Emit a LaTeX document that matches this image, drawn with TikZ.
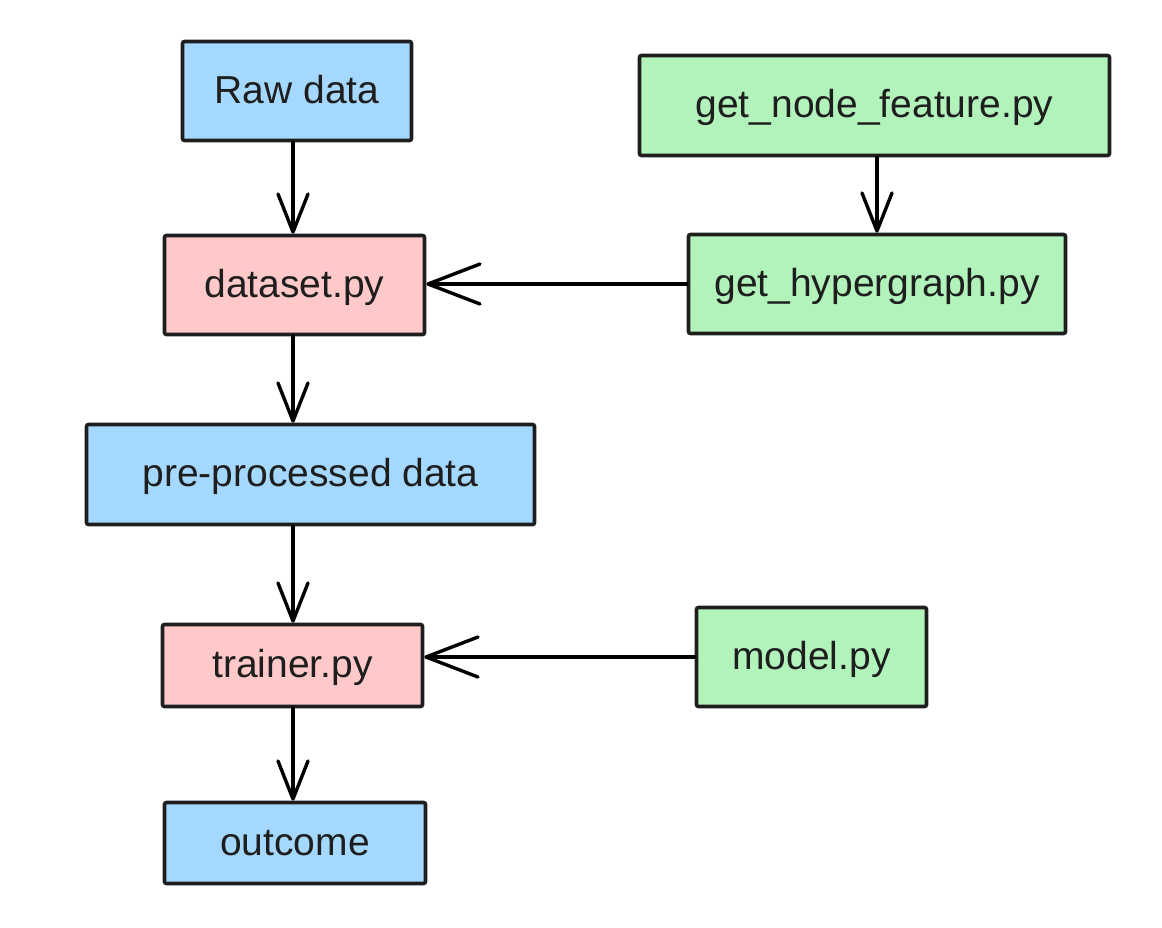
\documentclass[tikz,border=0pt]{standalone}
\usepackage{fontspec}
\setmainfont{Liberation Sans}
\usetikzlibrary{arrows.meta}
\definecolor{bluefill}{HTML}{A5D8FF}
\definecolor{pinkfill}{HTML}{FFC9C9}
\definecolor{greenfill}{HTML}{B2F2BB}
\definecolor{ink}{HTML}{1E1E1E}
\tikzset{
  box/.style={draw=ink, line width=3.6pt, rounded corners=2pt, inner sep=0pt,
    text=ink, font=\fontsize{39}{47}\selectfont, text height=24pt, text depth=0pt,
    align=center},
  bluebox/.style={box, fill=bluefill},
  pinkbox/.style={box, fill=pinkfill},
  greenbox/.style={box, fill=greenfill},
  varr/.style={draw=black, line width=3.4pt, line cap=round,
    -{Straight Barb[length=38pt, width=30pt, round]}},
  harr/.style={draw=black, line width=3.4pt, line cap=round,
    -{Straight Barb[length=52pt, width=40pt, round]}}
}
\begin{document}
\begin{tikzpicture}[x=1pt, y=-1pt]
\useasboundingbox (0,0) rectangle (1162,927);
\node[bluebox, minimum width=229pt, minimum height=99pt] (raw) at (297,91) {Raw data};
\node[greenbox, minimum width=470pt, minimum height=100pt] (gnf) at (874.5,105.5) {get\_node\_feature.py};
\node[pinkbox, minimum width=260pt, minimum height=99pt] (ds) at (294.5,285) {dataset.py};
\node[greenbox, minimum width=377pt, minimum height=99pt] (ghg) at (877,284) {get\_hypergraph.py};
\node[bluebox, minimum width=448pt, minimum height=100pt] (pre) at (310.5,474.5) {pre-processed data};
\node[pinkbox, minimum width=260pt, minimum height=82pt] (tr) at (292.5,665.5) {trainer.py};
\node[greenbox, minimum width=230pt, minimum height=99pt] (model) at (811.5,657) {model.py};
\node[bluebox, minimum width=261pt, minimum height=81pt] (out) at (295,843) {outcome};
\coordinate (col) at (293,0);
\draw[varr] (raw.south -| col) -- (ds.north -| col);
\draw[varr] (gnf.south -| ghg.north) -- (ghg.north);
\draw[harr] (ghg.west) -- (ds.east |- ghg.west);
\draw[varr] (ds.south -| col) -- (pre.north -| col);
\draw[varr] (pre.south -| col) -- (tr.north -| col);
\draw[harr] (model.west) -- (tr.east |- model.west);
\draw[varr] (tr.south -| col) -- (out.north -| col);
\end{tikzpicture}
\end{document}
